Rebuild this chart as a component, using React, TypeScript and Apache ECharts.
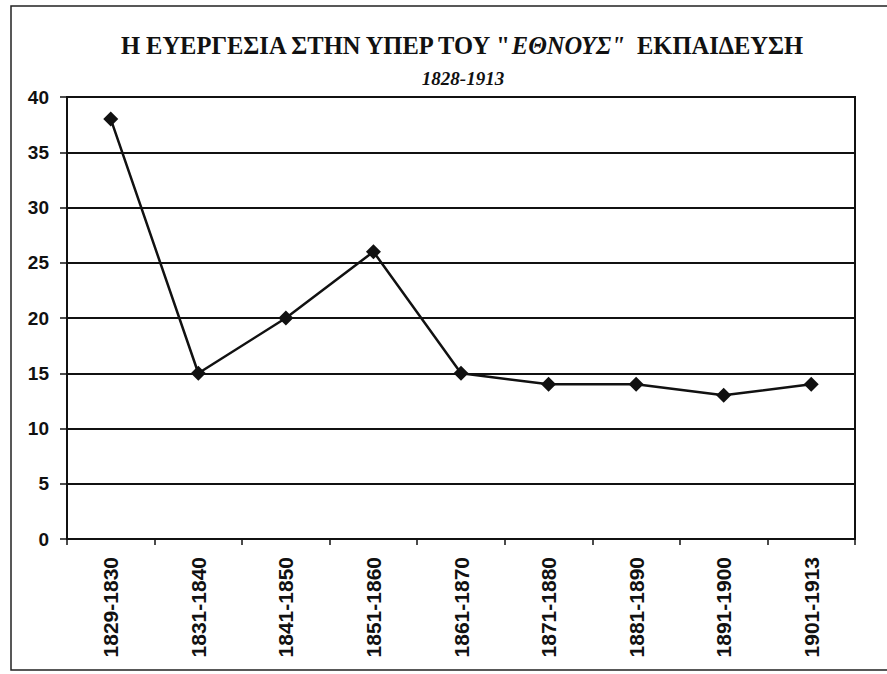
import React, { useEffect, useRef } from "react";
import * as echarts from "echarts";

const categories = [
  "1829-1830",
  "1831-1840",
  "1841-1850",
  "1851-1860",
  "1861-1870",
  "1871-1880",
  "1881-1890",
  "1891-1900",
  "1901-1913",
];
const values = [38, 15, 20, 26, 15, 14, 14, 13, 14];
const titleMain = "Η ΕΥΕΡΓΕΣΙΑ ΣΤΗΝ ΥΠΕΡ ΤΟΥ \"";
const titleItalic = "ΕΘΝΟΥΣ\"";
const titleEnd = "  ΕΚΠΑΙΔΕΥΣΗ";
const subtitle = "1828-1913";

export default function App() {
  const ref = useRef<HTMLDivElement>(null);
  useEffect(() => {
    if (!ref.current) return;
    const chart = echarts.init(ref.current, undefined, { renderer: "svg" });
    const serif = "Liberation Serif";
    const tSize = 24.5;
    chart.setOption({
      animation: false,
      backgroundColor: "#ffffff",
      title: [
        {
          text: `{a|${titleMain}}{b|${titleItalic}}{a|${titleEnd}}`,
          left: 461,
          top: 33,
          textAlign: "center",
          padding: 0,
          textStyle: {
            fontFamily: serif,
            fontWeight: "bold",
            fontSize: tSize,
            color: "#111",
            rich: {
              a: { fontFamily: serif, fontWeight: "bold", fontSize: tSize, color: "#111" },
              b: {
                fontFamily: serif,
                fontWeight: "bold",
                fontStyle: "italic",
                fontSize: tSize,
                color: "#111",
              },
            },
          },
        },
        {
          text: subtitle,
          left: 463,
          top: 69,
          textAlign: "center",
          padding: 0,
          textStyle: {
            fontFamily: serif,
            fontWeight: "bold",
            fontStyle: "italic",
            fontSize: 19,
            color: "#111",
          },
        },
      ],
      graphic: [
        {
          type: "rect",
          shape: { x: 11, y: 6, width: 900, height: 664 },
          style: { fill: "none", stroke: "#222", lineWidth: 1.5 },
          silent: true,
        },
      ],
      grid: {
        left: 67,
        top: 97,
        right: 32,
        bottom: 135,
        show: true,
        borderColor: "#111",
        borderWidth: 2,
        backgroundColor: "transparent",
      },
      xAxis: {
        type: "category",
        data: categories,
        boundaryGap: true,
        axisLine: { lineStyle: { color: "#111", width: 2 } },
        axisTick: { show: true, length: 6, lineStyle: { color: "#111", width: 1.5 } },
        axisLabel: {
          rotate: 90,
          margin: 18,
          fontFamily: "Liberation Sans",
          fontWeight: "bold",
          fontSize: 21,
          color: "#111",
        },
        splitLine: { show: false },
      },
      yAxis: {
        type: "value",
        min: 0,
        max: 40,
        interval: 5,
        axisLine: { show: true, lineStyle: { color: "#111", width: 2 } },
        axisTick: { show: true, length: 7, lineStyle: { color: "#111", width: 1.5 } },
        axisLabel: {
          margin: 18,
          fontFamily: "Liberation Sans",
          fontWeight: "bold",
          fontSize: 19,
          color: "#111",
        },
        splitLine: { show: true, lineStyle: { color: "#111", width: 1.8 } },
      },
      series: [
        {
          type: "line",
          data: values,
          symbol: "diamond",
          symbolSize: 15,
          itemStyle: { color: "#111" },
          lineStyle: { color: "#111", width: 2.5 },
        },
      ],
    });
    return () => chart.dispose();
  }, []);
  return (
    <div
      ref={ref}
      style={{ position: "absolute", left: 0, top: 0, width: 887, height: 674 }}
    />
  );
}
